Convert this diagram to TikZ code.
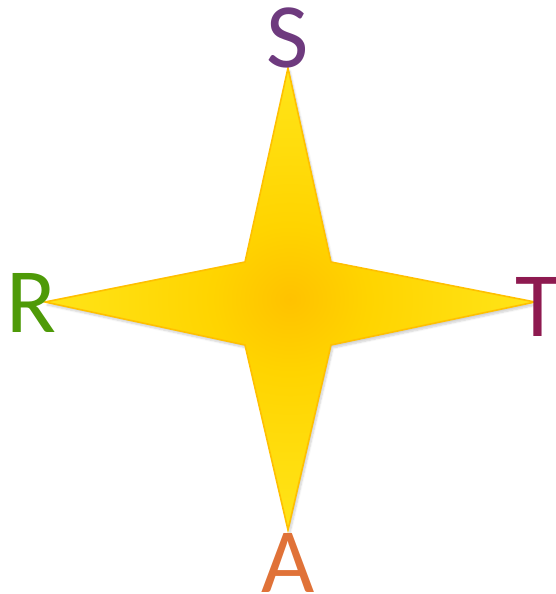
\documentclass[tikz,border=0pt]{standalone}
\usepackage{fontspec}
\setmainfont{Carlito}
\usetikzlibrary{shadows.blur}
\definecolor{sCol}{HTML}{6E3A7E}
\definecolor{rCol}{HTML}{4E9A08}
\definecolor{tCol}{HTML}{8E1A50}
\definecolor{aCol}{HTML}{E07238}
\definecolor{starEdge}{HTML}{FFC000}
\definecolor{starIn}{HTML}{FFC200}
\definecolor{starMid}{HTML}{FFD400}
\definecolor{starOut}{HTML}{FFEA20}
\pgfdeclareradialshading{starshade}{\pgfpoint{0bp}{0bp}}{%
  color(0bp)=(starIn); color(8bp)=(starMid); color(30bp)=(starOut); color(50bp)=(starOut)}
\tikzset{
  letter/.style={inner sep=0pt, font=\fontsize{92}{92}\selectfont},
  starshape/.style={draw=starEdge, line width=1.6pt, line join=miter, shading=starshade,
    blur shadow={shadow xshift=2pt, shadow yshift=-3pt, shadow opacity=18, shadow blur steps=6}}
}
\begin{document}
\begin{tikzpicture}[x=1pt,y=-1pt]
\useasboundingbox (0,0) rectangle (555,594);
\coordinate (top) at (288,68);
\coordinate (bot) at (288,530);
\coordinate (lft) at (45,302);
\coordinate (rgt) at (535,302);
\coordinate (ul) at (245,262);
\coordinate (ur) at (331,262);
\coordinate (lr) at (331,345);
\coordinate (ll) at (245,345);
\path[starshape] (top) -- (ur) -- (rgt) -- (lr) -- (bot) -- (ll) -- (lft) -- (ul) -- cycle;
\node[letter, text=sCol, anchor=base] (S) at (288,67) {S};
\node[letter, text=aCol, anchor=base] (A) at (288,592) {A};
\node[letter, text=rCol, anchor=base west] (R) at (6,332) {R};
\node[letter, text=tCol, anchor=base west] (T) at (515,336) {T};
\end{tikzpicture}
\end{document}
